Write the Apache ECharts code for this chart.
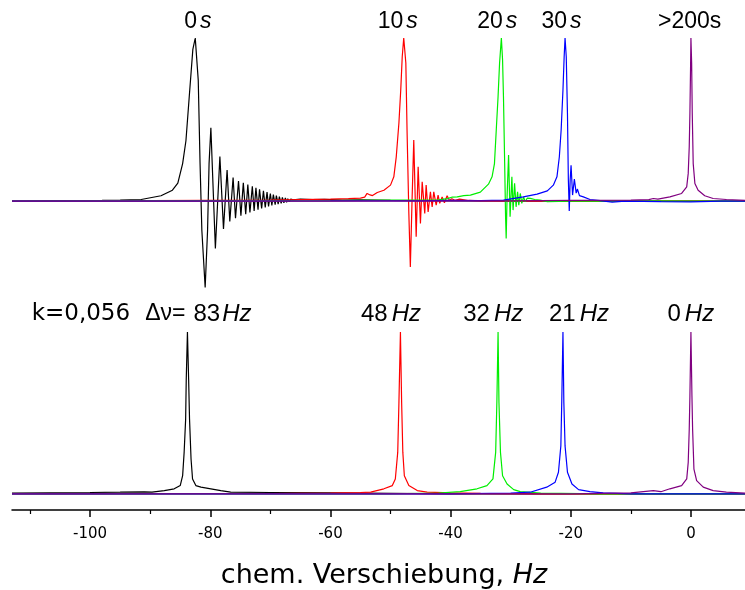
<!DOCTYPE html>
<html>
<head>
<meta charset="utf-8">
<script src="https://cdn.jsdelivr.net/npm/echarts@6/dist/echarts.min.js"></script>
<style>html,body{margin:0;padding:0;background:#fff}#c{width:745px;height:590px}</style>
</head>
<body>
<div id="c"></div>
<script>
// ---- data: [chemical shift (Hz), relative intensity (peak = 100)] ----
// upper panel: spectra recorded at 0 s, 10 s, 20 s, 30 s, >200 s
var top0s = [[-113,0],[-105,0.3],[-98,0.4],[-95,0.6],[-91.5,1.0],[-88.2,3.3],[-86.3,6.7],[-85.4,11],[-84.6,23],[-84.05,37],[-83.5,64],[-82.9,93],[-82.5,100],[-82.0,74],[-81.7,23],[-81.4,-18],[-80.85,-53],[-80.45,-18],[-80.2,23],[-79.9,45],
  [-79.15,-29],[-78.4,27.4],[-77.8,-17],[-77.2,19],[-76.75,-12.5],[-76.2,14.5],[-75.8,-10.5],[-75.3,12.3],[-74.9,-9],[-74.5,11.2],[-74.1,-8],[-73.75,10.1],[-73.4,-7],[-73.0,9.1],[-72.7,-6],[-72.4,8.1],[-72.05,-5.2],[-71.8,7.2],[-71.45,-4.5],[-71.15,6.3],[-70.85,-3.8],[-70.55,5.5],[-70.3,-3.2],[-70.0,4.7],[-69.75,-2.7],[-69.5,4.0],[-69.2,-2.2],[-69.0,3.4],[-68.7,-1.8],[-68.5,2.8],[-68.2,-1.4],[-68.0,2.3],[-67.75,-1.0],[-67.5,1.9],[-67.3,-0.7],[-67.1,1.5],[-66.85,-0.4],[-66.6,1.2],
  [-66.2,0.8],[-65,1.2],[-63,0.9],[-61,1.1],[-58,0.6],[-55,0.8],[-50,0.4],[-45,0.3],[-35,0.1],[-20,0],[-5,0],[9,0]];
var top10s = [[-113,0],[-100,0.2],[-90,0.3],[-80,0.4],[-70,0.6],[-65,0.9],[-60,1.2],[-57,1.5],[-55,1.8],[-54.3,2.5],[-53.9,4.7],[-53.4,3.8],[-53.0,3.4],[-52.2,5.3],[-51.1,6.7],[-50.0,9.8],[-49.45,14.9],[-49.05,27],[-48.6,48],[-48.3,68],[-48.05,88.5],[-47.8,100],[-47.45,84.7],[-47.25,43.6],[-46.95,-7.4],[-46.7,-40.3],[-46.4,2.6],
  [-46.13,37.4],[-45.73,-21.9],[-45.4,21],[-45.02,-13.7],[-44.73,11.8],[-44.3,-7.5],[-44.07,9.8],[-43.74,-6.6],[-43.36,5.7],[-43.07,-3.5],[-42.8,5.7],[-42.4,-2.5],[-42.08,3.7],[-41.81,-1.4],[-41.41,2.6],[-41.03,-1.0],[-40.58,3.3],[-40.2,0.4],[-39.8,1.5],[-39.3,0.5],[-38.5,1.2],[-37,0.4],[-35,0.2],[-30,0],[-20,0.1],[0,0],[9,0]];
var top20s = [[-113,0],[-90,0.1],[-70,0.2],[-60,0.3],[-55,0.5],[-50,0.6],[-45,0.7],[-42,0.8],[-40.5,1.5],[-39.7,2.5],[-38.9,2.6],[-37.8,3.4],[-36.7,3.7],[-35.05,5.5],[-33.7,10.4],[-33.1,14.9],[-32.7,23],[-32.4,43.6],[-32.1,64],[-31.85,84.5],[-31.55,100],[-31.35,86.5],[-31.2,64],[-31.0,23],[-30.85,-9.6],[-30.75,-22.9],[-30.6,2.6],
  [-30.35,28.2],[-30.1,-9.6],[-29.8,14.9],[-29.6,-5.5],[-29.35,10.9],[-29.1,-3.5],[-28.85,5.7],[-28.65,-2.5],[-28.4,4.7],[-28.15,-1.4],[-27.85,2.6],[-27.6,-0.4],[-27.25,1.8],[-26.75,1.7],[-26,1.0],[-25.1,0.6],[-23.9,-0.3],[-20,0],[-10,0.2],[0,0],[9,0]];
var top30s = [[-113,0],[-80,0],[-60,0.1],[-45,0.2],[-40,0.4],[-35,0.3],[-31.2,0.6],[-27.9,2.6],[-25.6,4.3],[-23.9,6.3],[-22.9,9.8],[-22.3,14.9],[-21.9,27.2],[-21.6,43.6],[-21.3,68],[-21.1,88.5],[-20.95,100],[-20.75,88.5],[-20.55,53.8],[-20.4,12.9],[-20.25,-6],[-20.1,12.9],[-19.95,22],[-19.7,3.7],[-19.4,13.5],[-19.1,4.9],[-18.9,7.4],[-18.55,3.4],[-17.9,2.6],[-16.8,1.0],[-15.1,0.3],[-13.1,-0.6],[-11,0],[-5,-0.3],[0,-0.4],[5,0],[9,0]];
var top200s = [[-113,0],[-60,0],[-30,0.2],[-20,0.4],[-10,0.6],[-7,0.9],[-6.26,1.6],[-5.5,1.2],[-3.5,2.6],[-1.55,4.7],[-0.7,8.8],[-0.45,17],[-0.28,33.3],[-0.17,53.8],[-0.05,84.5],[0,100],[0.12,84.5],[0.22,53.8],[0.38,23],[0.66,10.8],[1.2,6.7],[2.3,3.3],[3.7,1.6],[5.9,1.0],[9,0.5]];

// lower panel: corresponding spectra with shifts 83, 48, 32, 21, 0 Hz
var bot83 = [[-113,0.5],[-100,0.8],[-95,1.0],[-91,1.2],[-89.7,1.0],[-87.65,2.0],[-86.0,3.1],[-85.0,5.1],[-84.6,11.2],[-84.35,25.6],[-84.1,46],[-84.0,70.5],[-83.8,100],[-83.6,70.5],[-83.45,46],[-83.2,21.5],[-82.95,9.2],[-82.4,5.1],[-81.55,4.1],[-79.9,3.1],[-78.25,2.0],[-76.6,1.0],[-70,0.8],[-60,0.6],[-50,0.3],[-40,0],[9,0]];
var bot48 = [[-113,0],[-70,0.2],[-60,0.5],[-55,0.8],[-53.3,1.0],[-51.1,3.1],[-49.7,5.1],[-49.2,9.2],[-48.8,25.6],[-48.6,56.4],[-48.35,100],[-48.15,56.4],[-47.95,25.6],[-47.7,11.2],[-46.95,5.1],[-45.55,2.0],[-43.9,1.0],[-40,0.6],[-35,0.3],[-25,0],[9,0]];
var bot32 = [[-113,0],[-50,0],[-42,0.5],[-38.4,1.4],[-35.6,3.1],[-33.95,5.1],[-32.95,9.2],[-32.5,25.6],[-32.3,56.4],[-32.1,100],[-31.95,56.4],[-31.7,25.6],[-31.35,11.2],[-30.6,6.1],[-29.5,2.6],[-28.4,1.4],[-25,0.5],[-15,0],[9,0]];
var bot21 = [[-113,0],[-40,0],[-30,0.5],[-26.75,1.0],[-24.0,4.1],[-22.6,7.2],[-22.05,13.3],[-21.65,29.6],[-21.5,56.4],[-21.3,100],[-21.15,56.4],[-20.95,29.6],[-20.55,13.3],[-19.8,6.1],[-18.7,2.6],[-16.8,1.4],[-14.6,0.6],[-10,0],[9,0]];
var bot0 = [[-113,0],[-20,0],[-10,0.6],[-6.25,2.0],[-5,1.3],[-3.5,3.1],[-1.55,5.1],[-0.7,9.2],[-0.45,19.4],[-0.28,39.9],[-0.17,60.3],[0,100],[0.17,60.3],[0.28,39.9],[0.5,15.3],[0.95,8.2],[2.05,4.1],[3.7,2.0],[5.9,1.0],[9,0.4]];

var tickValues = [-100, -80, -60, -40, -20, 0];
var minorTickValues = [-110, -90, -70, -50, -30, -10];
var topLabels = ['0', '10', '20', '30'];
var bottomLabels = ['48', '32', '21', '0'];
var axisTitle = 'chem. Verschiebung, ';
var axisUnit = 'Hz';

// ---- chart ----
var colors = ['#000000', '#ff0000', '#00ee00', '#0000ff', '#800080'];
var topSets = [top0s, top10s, top20s, top30s, top200s];
var botSets = [bot83, bot48, bot32, bot21, bot0];
var series = [];
topSets.forEach(function (d, i) {
  series.push({type: 'line', xAxisIndex: 0, yAxisIndex: 0, data: d, symbol: 'none', silent: true,
    lineStyle: {color: colors[i], width: 1.2}, z: 2 + i});
});
botSets.forEach(function (d, i) {
  series.push({type: 'line', xAxisIndex: 1, yAxisIndex: 1, data: d, symbol: 'none', silent: true,
    lineStyle: {color: colors[i], width: 1.2}, z: 2 + i});
});

var LS = 'Liberation Sans, Arial, sans-serif';
function topText(x, str, italicS) {
  return {type: 'text', x: x, y: 22, z: 20, style: {
    text: italicS ? '{n|' + str + '}{i|s}' : '{n|' + str + '}',
    align: 'center', verticalAlign: 'middle', fill: '#000',
    rich: {n: {fontFamily: LS, fontSize: 23, fill: '#000'},
           i: {fontFamily: LS, fontSize: 23, fontStyle: 'italic', fill: '#000', padding: [0, 0, 0, 3]}}
  }};
}
function botText(x, str) {
  return {type: 'text', x: x, y: 314, z: 20, style: {
    text: '{n|' + str + '}{h|' + axisUnit + '}',
    align: 'center', verticalAlign: 'middle', fill: '#000',
    rich: {n: {fontFamily: LS, fontSize: 24, fill: '#000'},
           h: {fontFamily: LS, fontSize: 24, fontStyle: 'italic', fill: '#000', padding: [0, 0, 0, 4]}}
  }};
}

var graphics = [
  topText(197.8, topLabels[0], true),
  topText(397.8, topLabels[1], true),
  topText(497.3, topLabels[2], true),
  topText(561.5, topLabels[3], true),
  topText(689.7, '>200s', false),
  {type: 'text', x: 31.7, y: 314, z: 20, style: {
    text: '{k|k=0,056}{d|\u0394\u03bd=}{n|83}{h|Hz}',
    align: 'left', verticalAlign: 'middle', fill: '#000',
    rich: {k: {fontFamily: 'DejaVu Sans', fontSize: 23, fill: '#000'},
           d: {fontFamily: LS, fontSize: 23, fill: '#000', padding: [0, 0, 0, 15]},
           n: {fontFamily: LS, fontSize: 24, fill: '#000', padding: [0, 0, 0, 8]},
           h: {fontFamily: LS, fontSize: 24, fontStyle: 'italic', fill: '#000', padding: [0, 0, 0, 2]}}
  }},
  botText(391, bottomLabels[0]),
  botText(493.2, bottomLabels[1]),
  botText(579, bottomLabels[2]),
  botText(690.8, bottomLabels[3])
];

var chart = echarts.init(document.getElementById('c'), null, {renderer: 'canvas'});
chart.setOption({
  animation: false,
  backgroundColor: '#ffffff',
  grid: [
    {left: 12, right: 0, top: 38, height: 261, containLabel: false},
    {left: 12, right: 0, top: 332, height: 179.3, containLabel: false}
  ],
  xAxis: [
    {gridIndex: 0, type: 'value', min: -113, max: 9, show: false},
    {gridIndex: 1, type: 'value', min: -113, max: 9, position: 'bottom',
      axisLine: {show: true, onZero: false, lineStyle: {color: '#000', width: 1.5}},
      splitLine: {show: false},
      axisTick: {show: true, customValues: tickValues, length: 7, lineStyle: {color: '#000', width: 1.5}},
      axisLabel: {show: true, customValues: tickValues, margin: 17, color: '#000', fontFamily: 'DejaVu Sans', fontSize: 15},
      name: '{a|' + axisTitle + '}{b|' + axisUnit + '}',
      nameLocation: 'middle', nameGap: 52,
      nameTextStyle: {padding: [0, 0, 0, 11],
        rich: {a: {fontFamily: 'DejaVu Sans', fontSize: 27, color: '#000'},
               b: {fontFamily: 'DejaVu Sans', fontSize: 27, fontStyle: 'italic', color: '#000'}}}
    },
    {gridIndex: 1, type: 'value', min: -113, max: 9, position: 'bottom',
      axisLine: {show: false, onZero: false}, splitLine: {show: false},
      axisTick: {show: true, customValues: minorTickValues, length: 4, lineStyle: {color: '#000', width: 1.2}},
      axisLabel: {show: false}
    }
  ],
  yAxis: [
    {gridIndex: 0, type: 'value', min: -60, max: 100, show: false},
    {gridIndex: 1, type: 'value', min: -10, max: 100, show: false}
  ],
  series: series,
  graphic: graphics
});
</script>
</body>
</html>
